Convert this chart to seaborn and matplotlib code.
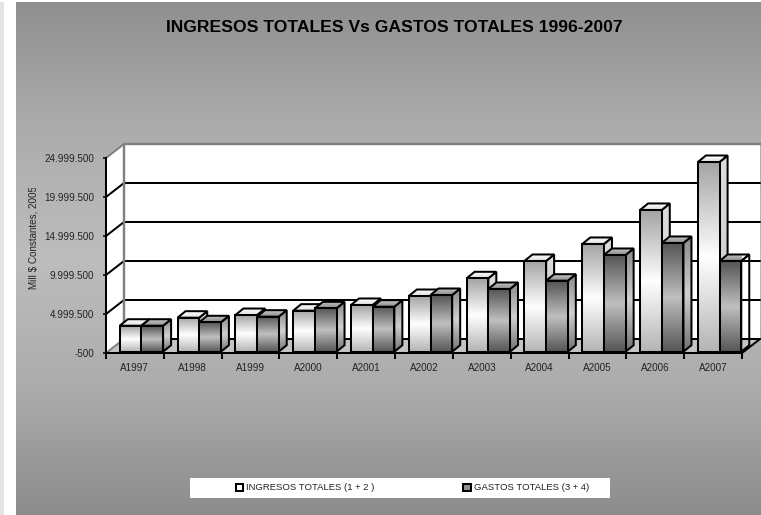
import numpy as np
import pandas as pd
import matplotlib
matplotlib.use("Agg")
import matplotlib.pyplot as plt
import seaborn as sns
from matplotlib.colors import LinearSegmentedColormap
from matplotlib.patches import Patch, Polygon, Rectangle
from matplotlib.ticker import FuncFormatter, MultipleLocator
from matplotlib.transforms import Bbox, IdentityTransform

YEARS = ["A1997", "A1998", "A1999", "A2000", "A2001", "A2002",
         "A2003", "A2004", "A2005", "A2006", "A2007"]
INGRESOS = [3330000, 4360000, 4700000, 5260000, 5990000, 7140000,
            9410000, 11630000, 13810000, 18170000, 24320000]
GASTOS = [3330000, 3770000, 4490000, 5560000, 5770000, 7270000,
          8040000, 9100000, 12400000, 13940000, 11630000]
LABEL_ING = "INGRESOS TOTALES (1 + 2 )"
LABEL_GAS = "GASTOS TOTALES (3 + 4)"
TITLE = "INGRESOS TOTALES Vs GASTOS TOTALES 1996-2007"
Y_LABEL = "Mill $ Constantes, 2005"

W, H = 761, 515
WALL_DX, WALL_DY = 18, 14   # depth of the back wall, px
BAR_DX, BAR_DY = 8, 6.5     # depth of a bar, px
BAR_SHIFT = (6.5, 1.3)      # bars sit a bit inside the floor
LW = 1.45

STOPS_ING = ["#a4a4a4", "#ffffff", "#b4b4b4"]
STOPS_GAS = ["#555555", "#c0c0c0", "#555555"]
STOPS_BG = ["#8f8f8f", "#acacac", "#bdbdbd", "#acacac", "#8c8c8c"]


def gradient_face(ax, verts, stops, zorder, edge="black"):
    """Polygon in pixel coordinates with a vertical gradient and black outline."""
    verts = np.asarray(verts)
    cmap = LinearSegmentedColormap.from_list("face", stops)
    grad = np.linspace(0, 1, 128).reshape(-1, 1)
    extent = [verts[:, 0].min(), verts[:, 0].max(), verts[:, 1].min(), verts[:, 1].max()]
    im = ax.imshow(grad, cmap=cmap, extent=extent, aspect="auto", origin="upper",
                   transform=IdentityTransform(), zorder=zorder)
    im.set_clip_path(Polygon(verts, transform=IdentityTransform()))
    ax.add_patch(Polygon(verts, closed=True, fill=False, edgecolor=edge, lw=LW,
                         transform=IdentityTransform(), clip_on=False, zorder=zorder,
                         joinstyle="miter"))


def draw_walls(ax):
    to_px = ax.transAxes.transform
    (x0, y0), (x1, y1) = to_px((0, 0)), to_px((1, 1))
    d = np.array([WALL_DX, WALL_DY])
    ident = IdentityTransform()
    ax.add_patch(Polygon([(x0, y0), (x0 + d[0], y0 + d[1]), (x0 + d[0], y1 + d[1]), (x0, y1)],
                         facecolor="white", edgecolor="none", transform=ident, clip_on=False, zorder=0.1))
    ax.add_patch(Rectangle((x0 + d[0], y0 + d[1]), x1 - x0, y1 - y0, facecolor="white",
                           edgecolor="none", transform=ident, clip_on=False, zorder=0.1))
    ax.add_patch(Polygon([(x0, y0), (x1, y0), (x1 + d[0], y0 + d[1]), (x0 + d[0], y0 + d[1])],
                         facecolor="#c4c4c4", edgecolor="none", transform=ident, clip_on=False, zorder=0.2))
    ymin, ymax = ax.get_ylim()
    ticks = [t for t in ax.get_yticks() if ymin <= t <= ymax]
    for i, t in enumerate(ticks):
        _, y = ax.transData.transform((0, t))
        outer = i in (0, len(ticks) - 1)
        color = "#808080" if outer else "black"
        ax.plot([x0, x0 + d[0]], [y, y + d[1]], color=color, lw=LW, transform=ident,
                clip_on=False, zorder=0.3)
        if i < len(ticks) - 1:
            ax.plot([x0 + d[0], x1 + d[0]], [y + d[1], y + d[1]], color="black", lw=LW,
                    transform=ident, clip_on=False, zorder=0.3)
    ax.plot([x0 + d[0], x0 + d[0], x1 + d[0]], [y0 + d[1], y1 + d[1], y1 + d[1]],
            color="#808080", lw=LW + 0.3, transform=ident, clip_on=False, zorder=0.3)
    ax.plot([x1, x1 + d[0]], [y0, y0 + d[1]], color="black", lw=LW, transform=ident,
            clip_on=False, zorder=0.3)


def draw_bars(ax, rects):
    """Turn the flat seaborn bars into shaded boxes, left to right."""
    rects = sorted(rects, key=lambda r: r[0].get_x())
    for n, (bar, stops) in enumerate(rects):
        x, w, h = bar.get_x(), bar.get_width(), bar.get_height()
        (l, b), (r, t) = ax.transData.transform([(x, ax.get_ylim()[0]), (x + w, h)])
        l, r = l + BAR_SHIFT[0], r + BAR_SHIFT[0]
        b, t = b + BAR_SHIFT[1], t + BAR_SHIFT[1]
        z = 2 + n * 0.01
        top_stops = ["#ffffff", "#e0e0e0"] if stops is STOPS_ING else ["#c8c8c8", "#8c8c8c"]
        side_stops = ["#dcdcdc", "#c8c8c8"] if stops is STOPS_ING else ["#8a8a8a", "#d0d0d0", "#707070"]
        gradient_face(ax, [(r, b), (r + BAR_DX, b + BAR_DY), (r + BAR_DX, t + BAR_DY), (r, t)], side_stops, z)
        gradient_face(ax, [(l, t), (r, t), (r + BAR_DX, t + BAR_DY), (l + BAR_DX, t + BAR_DY)], top_stops, z + 0.001)
        gradient_face(ax, [(l, b), (r, b), (r, t), (l, t)], stops, z + 0.002)
        bar.set_visible(False)


def main():
    sns.set_style("white")
    plt.rcParams["font.family"] = ["Liberation Sans", "DejaVu Sans"]

    df = pd.DataFrame({
        "year": YEARS * 2,
        "value": INGRESOS + GASTOS,
        "serie": [LABEL_ING] * len(YEARS) + [LABEL_GAS] * len(YEARS),
    })

    fig = plt.figure(figsize=(W / 100, H / 100), dpi=100)

    # page background
    bg = fig.add_axes([0, 0, 1, 1], zorder=-1)
    bg.axis("off")
    bg_cmap = LinearSegmentedColormap.from_list("bg", STOPS_BG)
    bg.imshow(np.linspace(0, 1, 256).reshape(-1, 1), cmap=bg_cmap, aspect="auto",
              extent=[0, W, H, 0])
    bg.add_patch(Rectangle((0, 0), 16, H, facecolor="white", edgecolor="none"))
    bg.add_patch(Rectangle((0, 0), 4, H, facecolor="#e4e4e4", edgecolor="none"))
    bg.add_patch(Rectangle((0, 0), W, 2, facecolor="white", edgecolor="none"))
    bg.add_patch(Rectangle((190, 478), 420, 20, facecolor="white", edgecolor="none"))
    bg.set_xlim(0, W)
    bg.set_ylim(H, 0)

    ax = fig.add_axes([106 / W, (H - 353) / H, 636 / W, 195 / H])
    ax.patch.set_alpha(0)
    sns.barplot(data=df, x="year", y="value", hue="serie", hue_order=[LABEL_ING, LABEL_GAS],
                width=0.75, gap=0, legend=False, ax=ax)
    n = len(YEARS)
    ax.set_xlim(-0.5, n - 0.5)
    ax.set_ylim(-500, 24999500)
    ax.yaxis.set_major_locator(MultipleLocator(5000000, offset=-500))
    ax.yaxis.set_major_formatter(FuncFormatter(lambda v, _: f"{v:,.0f}".replace(",", ".")))
    ax.set_xlabel("")
    ax.set_ylabel("")
    ax.autoscale(False)

    ax.tick_params(axis="y", length=2, width=LW, pad=6.5, labelsize=7.1, left=True, labelcolor="#222222")
    ax.tick_params(axis="x", which="major", length=0, pad=7.5, labelsize=7.1, labelcolor="#222222")
    ax.set_xticks(np.arange(-0.5, n), minor=True)
    ax.tick_params(axis="x", which="minor", length=4.5, width=LW, bottom=True, color="black")
    for side in ("top", "right"):
        ax.spines[side].set_visible(False)
    for side in ("left", "bottom"):
        ax.spines[side].set_color("black")
        ax.spines[side].set_linewidth(LW)
        ax.spines[side].set_zorder(5)

    draw_walls(ax)
    bars = [b for b in ax.patches if isinstance(b, Rectangle) and b.get_height() > 0][:2 * n]
    draw_bars(ax, [(b, STOPS_ING if i < n else STOPS_GAS) for i, b in enumerate(bars)])
    ax.set_xlim(-0.5, n - 0.5)
    ax.set_ylim(-500, 24999500)

    fig.text(394 / W, 1 - 28 / H, TITLE, ha="center", va="center", fontsize=12.6,
             fontweight="bold", color="black")

    # the label is cut off by its frame in the original too
    yl = fig.text(34 / W, 1 - 289 / H, Y_LABEL, rotation=90, ha="center", va="bottom",
                  fontsize=7.1, color="#222222", clip_on=True)
    yl.set_clip_box(Bbox([[20, H - 292], [50, H - 188]]))

    handles = [
        Patch(facecolor="white", edgecolor="black", linewidth=LW),
        Patch(facecolor="#909090", edgecolor="black", linewidth=LW),
    ]
    fig.legend(handles, [LABEL_ING, LABEL_GAS], ncol=2, frameon=False, fontsize=6.8,
               loc="center", bbox_to_anchor=(412.5 / W, 1 - 488 / H), handlelength=0.75,
               handleheight=0.75, handletextpad=0.35, columnspacing=9.4, labelcolor="#222222")

    fig.savefig("out.png", dpi=100)
    plt.close(fig)


if __name__ == "__main__":
    main()
